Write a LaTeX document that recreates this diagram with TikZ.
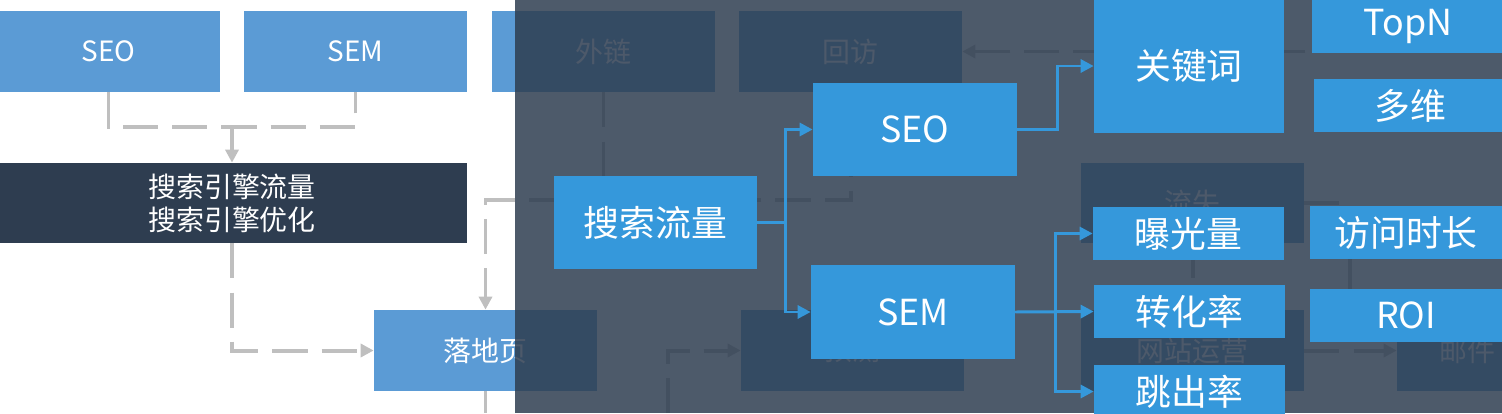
\documentclass[tikz,border=0pt]{standalone}
\usepackage{fontspec}
\setmainfont{Noto Sans CJK SC}
\usetikzlibrary{arrows.meta}

\definecolor{oldblue}{RGB}{91,155,213}
\definecolor{navy}{RGB}{46,61,80}
\definecolor{newblue}{RGB}{53,152,219}
\definecolor{dashgray}{RGB}{191,191,191}

\tikzset{
	oldbox/.style = {fill = oldblue, text = white, inner sep = 0pt,
		minimum width = 4.46cm, minimum height = 1.62cm,
		font = \fontsize{15.9pt}{18.7pt}\selectfont},
	newbox/.style = {fill = newblue, text = white, inner sep = 0pt,
		minimum width = 3.82cm, minimum height = 1.06cm,
		font = \fontsize{20.4pt}{24pt}\selectfont},
	gdash/.style = {dashgray, line width = 2.27pt, dash pattern = on 20pt off 8pt},
	blink/.style = {newblue, line width = 1.7pt}
}

\begin{document}
\begin{tikzpicture}[x = 0.02cm, y = -0.02cm,
	> = {Triangle[length = 7.4pt, width = 7.4pt]}]

	\useasboundingbox (0, 0) rectangle (1502, 413);

	% Old chart (behind)

	\node [oldbox] (seoA) at (108.5, 51.5) {SEO};
	\node [oldbox] (semA) at (355.5, 51.5) {SEM};
	\node [oldbox] (waiA) at (603.5, 51.5) {外链};
	\node [oldbox] (huiA) at (850.5, 51.5) {回访};
	\node [oldbox, fill = navy, minimum width = 9.4cm, minimum height = 1.6cm,
		align = center] (engA) at (232, 203) {搜索引擎流量\\搜索引擎优化};
	\node [oldbox] (landA) at (485.5, 350.5) {落地页};
	\node [oldbox] (predA) at (852.5, 350.5) {预测};
	\node [oldbox, minimum height = 1.6cm] (lossA) at (1192.5, 203) {流失};
	\node [oldbox] (opA) at (1192.5, 350.5) {网站运营};
	\node [oldbox, minimum width = 2.8cm] (mailA) at (1467, 350.5) {邮件};

	\coordinate (split) at (232, 127);
	\coordinate (mid) at (485.5, 200);
	\coordinate (ldown) at (485.5, 413);
	\coordinate (pin) at (668, 413);
	\coordinate (mj) at (1350, 350.5);
	\coordinate (rin) at (1502, 51.5);

	\begin{scope}[gdash]

		\draw (seoA.south) -- (seoA.south |- split) -- (semA.south |- split)
			-- (semA.south);
		\draw [->] (split) -- (engA.north);
		\draw [->] (engA.south) |- (landA.west);
		\draw [->] (huiA.south) |- (mid) -- (landA.north);
		\draw (waiA.south) -- (waiA.south |- mid);
		\draw (landA.south) -- (ldown);
		\draw [->] (pin) |- (predA.west);
		\draw (lossA.south) -- (opA.north);
		\draw (lossA.east) -| (mj);
		\draw [->] (opA.east) -- (mailA.west);
		\draw [->] (rin) -- (huiA.east);

	\end{scope}

	% Shade

	\fill [navy, opacity = 0.85] (515, 0) rectangle (1502, 413);

	% New chart

	\node [newbox, minimum width = 4.06cm, minimum height = 1.86cm]
		(flow) at (655.5, 222.5) {搜索流量};
	\node [newbox, minimum width = 4.08cm, minimum height = 1.86cm]
		(seoB) at (915, 129.5) {SEO};
	\node [newbox, minimum width = 4.08cm, minimum height = 1.88cm]
		(semB) at (913, 312) {SEM};
	\node [newbox, minimum width = 3.8cm, minimum height = 2.68cm]
		(kw) at (1189, 66) {关键词};
	\node [newbox, minimum width = 3.84cm] (topn) at (1408, 26.5) {TopN};
	\node [newbox, minimum width = 3.84cm] (multi) at (1410, 105.5) {多维};
	\node [newbox] (expo) at (1188.5, 233.5) {曝光量};
	\node [newbox] (conv) at (1189.5, 311.5) {转化率};
	\node [newbox] (bounce) at (1189.5, 391.5) {跳出率};
	\node [newbox, minimum width = 3.84cm] (stay) at (1406, 232.5) {访问时长};
	\node [newbox, minimum width = 3.84cm] (roi) at (1406, 315.5) {ROI};

	\begin{scope}[blink]

		\draw [->] (flow.east) -- ++(28, 0) |- (seoB.west);
		\draw [->] (flow.east) -- ++(28, 0) |- (semB.west);
		\draw [->] (seoB.east) -- ++(40, 0) |- (kw.west);
		\draw [->] (semB.east) -- ++(40, 0) |- (expo.west);
		\draw [->] (semB.east) -- (conv.west);
		\draw [->] (semB.east) -- ++(40, 0) |- (bounce.west);

	\end{scope}

\end{tikzpicture}
\end{document}
